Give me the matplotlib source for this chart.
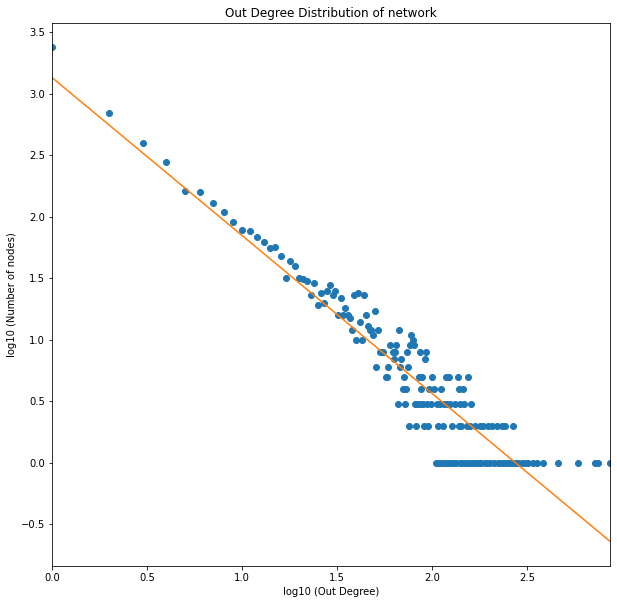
import numpy as np
import matplotlib.pyplot as plt

# out degree -> number of nodes (low degrees, counts above 5)
low_degree = [1, 2, 3, 4, 5, 6, 7, 8, 9, 10, 11, 12, 13, 14, 15, 16, 17, 18, 19, 20,
              21, 22, 23, 24, 25, 26, 27, 28, 29, 30, 31, 32, 33, 34, 35, 36, 37, 38, 39, 40,
              41, 42, 43, 44, 45, 46, 47, 48, 49, 50, 51, 52, 53, 54, 55, 59, 60, 62, 63, 64,
              65, 67, 68, 69, 74, 75, 77, 78, 79, 80, 86, 92, 93]
low_nodes = [2390, 705, 402, 281, 163, 160, 130, 110, 91, 78, 76, 68, 62, 56, 57, 48, 32, 44, 40, 32,
             31, 30, 23, 29, 19, 24, 20, 25, 28, 23, 25, 16, 22, 16, 18, 16, 15, 12, 23, 10,
             24, 14, 10, 23, 16, 13, 12, 12, 11, 17, 6, 12, 8, 8, 8, 6, 9, 8, 7, 8,
             9, 12, 6, 7, 8, 6, 9, 11, 10, 9, 8, 7, 8]

# higher degrees: which degrees have exactly 5, 4, 3, 2, 1 nodes
deg_5 = [57, 58, 71, 85, 89, 100, 119, 123, 137, 154]
deg_4 = [70, 73, 88, 97, 103, 112, 139, 146]
deg_3 = [66, 72, 81, 83, 87, 90, 94, 99, 106, 110, 115, 120, 125, 132, 140, 147, 160]
deg_2 = [76, 82, 91, 95, 108, 114, 127, 138, 143, 152, 158, 168, 179, 186, 198, 206,
         219, 233, 242, 268]
deg_1 = [105, 109, 113, 117, 121, 126, 130, 134, 141, 144, 149, 155, 161, 165, 171, 176,
         182, 189, 195, 203, 211, 222, 228, 237, 246, 255, 263, 275, 284, 297, 309, 322,
         340, 356, 383, 459, 589, 721, 750, 865]

# fitted power law (log-log straight line)
fit_intercept = 3.133
fit_slope = -1.285

degree = low_degree + deg_5 + deg_4 + deg_3 + deg_2 + deg_1
nodes = (low_nodes + [5] * len(deg_5) + [4] * len(deg_4) + [3] * len(deg_3)
         + [2] * len(deg_2) + [1] * len(deg_1))

x = np.log10(degree)
y = np.log10(nodes)

fig = plt.figure(figsize=(617 / 72, 604 / 72), dpi=72)
ax = fig.add_axes([52 / 617, 38 / 604, 558 / 617, 543.3 / 604])

ax.scatter(x, y)
xs = np.array([0, x.max()])
ax.plot(xs, fit_intercept + fit_slope * xs, color="C1")

ax.set_xlim(0, x.max())
ax.set_title("Out Degree Distribution of network")
ax.set_xlabel("log10 (Out Degree)")
ax.set_ylabel("log10 (Number of nodes)")

fig.savefig("out.png", dpi=72)
